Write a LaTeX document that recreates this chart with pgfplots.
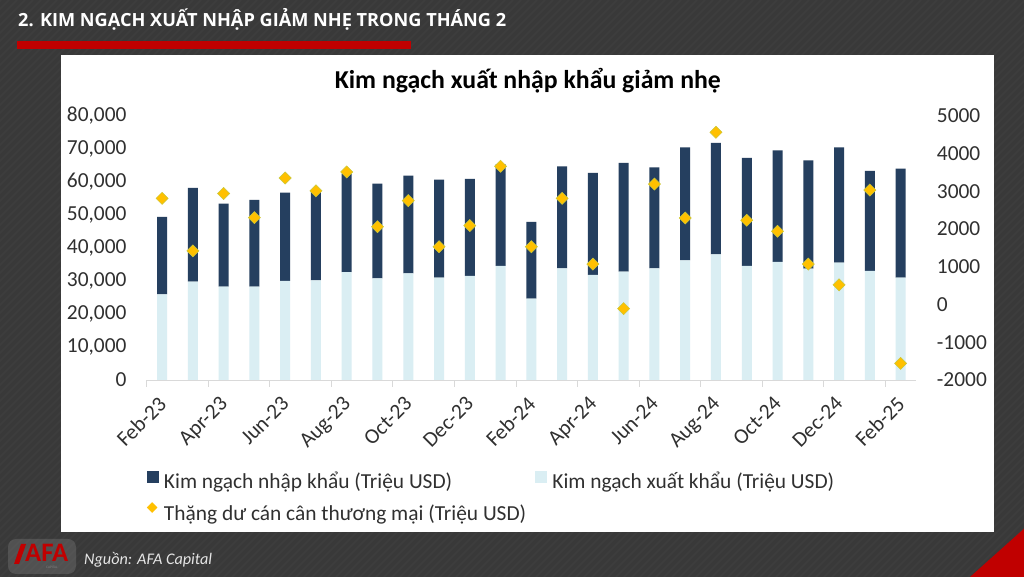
\documentclass[border=0pt]{standalone}
\usepackage{fontspec}
\setmainfont{Carlito}
\newfontfamily\titlefont{Open Sans}
\usepackage{graphicx}
\usepackage{pgfplots}
\usepackage{pgfplotstable}
\pgfplotsset{compat=1.18}
\definecolor{navy}{HTML}{253F5F}
\definecolor{lblue}{HTML}{DAEEF3}
\definecolor{gold}{HTML}{FFC000}
\definecolor{goldedge}{HTML}{C8C83A}
\definecolor{bg}{HTML}{393939}
\definecolor{axisgray}{HTML}{D9D9D9}
\definecolor{txt}{HTML}{303030}
\definecolor{afared}{HTML}{C00000}

\pgfplotstableread{
x exp imp sur
0 25930 23410 2810
1 29770 28350 1420
2 28250 25130 2940
3 28250 26240 2300
4 29970 26740 3350
5 30170 27150 3010
6 32690 29770 3510
7 30780 28660 2060
8 32290 29570 2750
9 30980 29670 1530
10 31480 29370 2090
11 34510 30780 3660
12 24620 23210 1530
13 33800 30880 2810
14 31790 30880 1070
15 32800 32890 -110
16 33800 30580 3190
17 36230 34200 2290
18 38040 33710 4560
19 34510 32690 2230
20 35720 33810 1940
21 33700 32800 1070
22 35520 34910 520
23 33000 30270 3030
24 30980 33000 -1560
}\data

\newcommand{\lblfont}{\fontsize{21.4bp}{25bp}\selectfont}

\begin{document}
\begin{tikzpicture}
\path[use as bounding box] (0,0) rectangle (1024bp,577bp);
\fill[bg] (0,0) rectangle (1024bp,577bp);
\begin{scope}
\clip (0,0) rectangle (1024bp,577bp);
\foreach \i in {-600,-592,...,1024} {
  \draw[white, opacity=0.025, line width=2bp] (\i bp,0) -- ++(577bp,577bp);
}
\end{scope}
% title
\node[anchor=base west, inner sep=0pt, text=white] at (18bp,550.3bp)
  {\resizebox{488bp}{!}{\titlefont\bfseries\fontsize{19bp}{23bp}\selectfont 2. KIM NGẠCH XUẤT NHẬP GIẢM NHẸ TRONG THÁNG 2}};
\fill[afared] (17.3bp,528.3bp) rectangle (411bp,536bp);
% white panel
\fill[white] (61bp,45bp) rectangle (994bp,522bp);
% chart title
\node[anchor=base, inner sep=0pt, text=black] at (527.8bp,488.7bp)
  {\resizebox{386bp}{!}{\bfseries\fontsize{25bp}{30bp}\selectfont Kim ngạch xuất nhập khẩu giảm nhẹ}};
% red corner
\fill[afared] (970bp,0) -- (1024bp,48.3bp) -- (1024bp,0) -- cycle;
% logo
\fill[white, opacity=0.12, rounded corners=8bp] (8bp,3bp) rectangle (76bp,38bp);
\fill[afared] (14bp,13bp) -- (21bp,33bp) -- (26bp,33bp) -- (24bp,27bp) -- (19bp,13bp) -- cycle;
\node[anchor=base west, inner sep=0pt, text=afared] at (25bp,15bp)
  {\resizebox{43bp}{!}{\bfseries\fontsize{15bp}{18bp}\selectfont AFA}};
\node[anchor=base west, inner sep=0pt, text=gray] at (46bp,9bp)
  {\fontsize{3.5bp}{4bp}\selectfont CAPITAL};
\node[anchor=base west, inner sep=0pt, text=black!10] at (84bp,12.7bp)
  {\resizebox{128bp}{!}{\itshape\fontsize{17bp}{20bp}\selectfont Nguồn: AFA Capital}};

\begin{axis}[
  at={(146.7bp,197bp)}, anchor=south west,
  width=769.3bp, height=264.3bp, scale only axis,
  ybar stacked, bar width=10bp,
  xmin=-0.5, xmax=24.5, ymin=0, ymax=80000,
  scaled y ticks=false,
  xtick={0,2,...,24},
  xticklabels={Feb-23,Apr-23,Jun-23,Aug-23,Oct-23,Dec-23,Feb-24,Apr-24,Jun-24,Aug-24,Oct-24,Dec-24,Feb-25},
  minor xtick={-0.5,1.5,...,23.5},
  tick align=outside, major tick length=0pt, minor tick length=7bp,
  minor x tick style={draw=axisgray, line width=0.8bp},
  ytick={0,10000,...,80000},
  axis x line*=bottom, axis y line*=left,
  x axis line style={draw=axisgray, line width=0.8bp, -},
  y axis line style={draw=none},
  ytick style={draw=none}, major x tick style={draw=none},
  /pgf/number format/assume math mode=true,
  /pgf/number format/1000 sep={,},
  yticklabel style={font=\lblfont, text=txt, anchor=east, inner sep=0pt, xshift=-20bp},
  xticklabel style={xshift=-5bp, yshift=-15bp, font=\lblfont, text=txt, rotate=45, anchor=north east, inner sep=0pt},
  legend columns=2, legend cell align=left,
  legend style={at={(0,-0.343)}, anchor=north west, draw=none, fill=none, inner sep=0pt,
    font=\lblfont, text=txt,
    nodes={inner sep=0pt, text height=14bp, text depth=4bp},
    row sep=9.6bp, column sep=0pt,
    /tikz/every odd column/.append style={column sep=6bp},
    /tikz/every even column/.append style={column sep=9bp}},
  clip=false,
]
\addlegendimage{legend image code/.code={\fill[navy] (0bp,2bp) rectangle (10.7bp,12.7bp);}}
\addlegendentry{Kim ngạch nhập khẩu (Triệu USD)}
\addlegendimage{legend image code/.code={\fill[lblue] (0bp,2bp) rectangle (10.7bp,12.7bp);}}
\addlegendentry{Kim ngạch xuất khẩu (Triệu USD)}
\addlegendimage{legend image code/.code={\fill[gold] (0bp,8bp) -- (5bp,13bp) -- (10bp,8bp) -- (5bp,3bp) -- cycle;}}
\addlegendentry{Thặng dư cán cân thương mại (Triệu USD)}
\addplot[fill=lblue, draw=none] table[x=x, y=exp] {\data};
\addplot[fill=navy, draw=none] table[x=x, y=imp] {\data};
\end{axis}

\begin{axis}[
  at={(146.7bp,197bp)}, anchor=south west,
  width=769.3bp, height=264.3bp, scale only axis,
  xmin=-0.5, xmax=24.5, ymin=-2000, ymax=5000,
  scaled y ticks=false,
  axis y line*=right, axis x line=none,
  y axis line style={draw=none}, ytick style={draw=none},
  ytick={-2000,-1000,...,5000},
  /pgf/number format/assume math mode=true,
  /pgf/number format/1000 sep={},
  yticklabel style={font=\lblfont, text=txt, anchor=west, inner sep=0pt, xshift=20.7bp},
  clip=false,
]
\addplot[only marks, mark=square*, mark size=4.3bp,
  mark options={rotate=45, fill=gold, draw=goldedge, line width=0.5bp}]
  table[x=x, y=sur] {\data};
\end{axis}
\end{tikzpicture}
\end{document}
